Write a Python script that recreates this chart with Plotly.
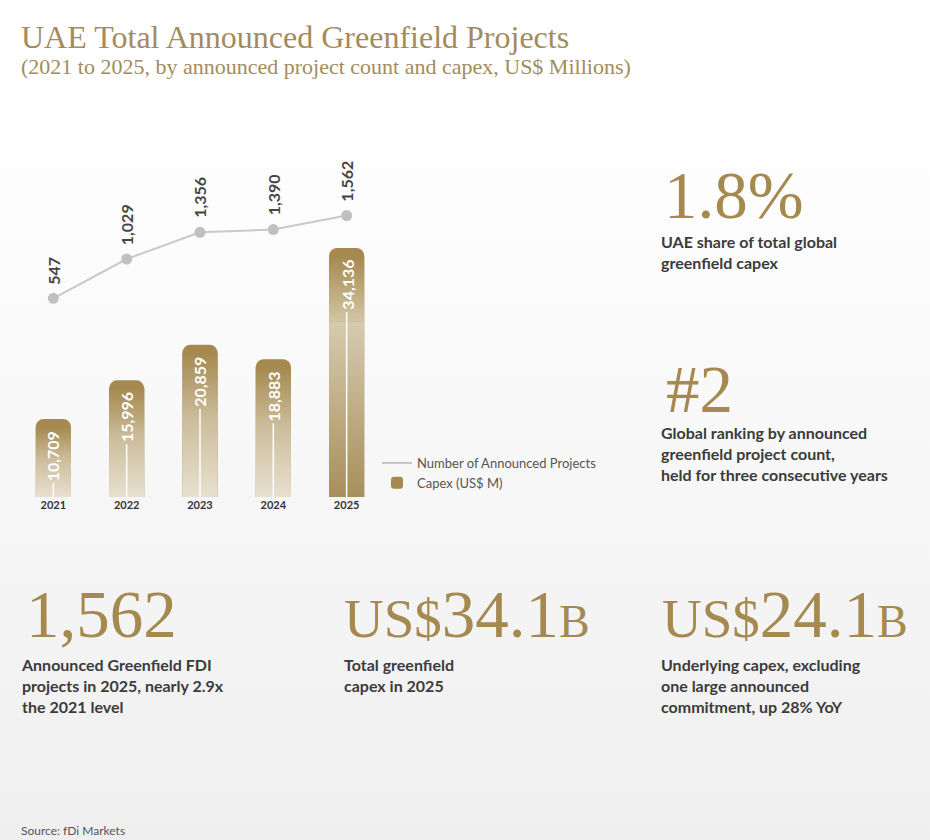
import base64
import plotly.graph_objects as go

W, H = 930, 840

# chart data
years = [2021, 2022, 2023, 2024, 2025]
capex = [10709, 15996, 20859, 18883, 34136]
projects = [547, 1029, 1356, 1390, 1562]
underlying_2025 = 24100  # 2025 capex without the one large commitment

# headline stats
stat_share = "1.8%"
stat_rank = "#2"
stat_count = "1,562"
stat_total = ("34.1", "B")
stat_underlying = ("24.1", "B")

GOLD = "#a5894f"
TITLE_GOLD = "#a38b5c"
TEXT = "#3b3b3b"
SANS = "Lato, 'Open Sans', sans-serif"
SERIF = "'Liberation Serif', 'DejaVu Serif', serif"


def px(x):
    return x / W


def py(y):
    return 1 - y / H


# plot box (pixels in the reference) and scales
X0, X1 = 16.7, 383.3
Y_TOP, Y_BOT = 150, 497
CAPEX_PER_PX = 137.1
PROJ_PER_PX = 12.25
PROJ_ZERO_PX = 343
capex_range = [0, (Y_BOT - Y_TOP) * CAPEX_PER_PX]
proj_range = [-(Y_BOT - PROJ_ZERO_PX) * PROJ_PER_PX, (PROJ_ZERO_PX - Y_TOP) * PROJ_PER_PX]
BAR_W = 0.48
RADIUS = 8

fig = go.Figure()

# bars (solid gold, rounded tops)
fig.add_trace(go.Bar(
    x=years, y=capex, width=BAR_W, name="Capex (US$ M)",
    marker=dict(color=GOLD, cornerradius=RADIUS, line_width=0),
    legendrank=2, hoverinfo="skip",
))

# gradient overlays on the straight part of each bar
r_units = RADIUS * CAPEX_PER_PX
for yr, v in zip(years, capex):
    lo = underlying_2025 if yr == 2025 else 0
    top = v - r_units
    if yr == 2025:
        scale = [[0, "#d2c5a5"], [1, GOLD]]
    else:
        scale = [[0, "#e8e0cf"], [0.55, "#cbbc9b"], [1, GOLD]]
    fig.add_trace(go.Scatter(
        x=[yr - BAR_W / 2, yr - BAR_W / 2, yr + BAR_W / 2, yr + BAR_W / 2, yr - BAR_W / 2],
        y=[lo, top, top, lo, lo], mode="none", fill="toself",
        fillgradient=dict(type="vertical", start=lo, stop=top, colorscale=scale),
        showlegend=False, hoverinfo="skip",
    ))
    if yr == 2025:
        fig.add_trace(go.Scatter(
            x=[yr - BAR_W / 2, yr - BAR_W / 2, yr + BAR_W / 2, yr + BAR_W / 2, yr - BAR_W / 2],
            y=[0, lo, lo, 0, 0], mode="none", fill="toself",
            fillgradient=dict(type="vertical", start=0, stop=lo,
                              colorscale=[[0, "#a88f5c"], [1, "#d6cbb0"]]),
            showlegend=False, hoverinfo="skip",
        ))

# thin white lines under the bar labels
gap_units = 64 * CAPEX_PER_PX
for yr, v in zip(years, capex):
    fig.add_trace(go.Scatter(
        x=[yr, yr], y=[0, v - gap_units], mode="lines",
        line=dict(color="white", width=1.5), showlegend=False, hoverinfo="skip",
    ))

# project count line
fig.add_trace(go.Scatter(
    x=years, y=projects, yaxis="y2", mode="lines+markers",
    line=dict(color="#c9c9c9", width=2), marker=dict(color="#c0c0c0", size=11),
    showlegend=False, hoverinfo="skip",
))
fig.add_trace(go.Scatter(
    x=[None], y=[None], mode="lines", name="Number of Announced Projects",
    line=dict(color="#c4c4c4", width=2), legendrank=1,
))

ann = []
for yr, v in zip(years, capex):
    ann.append(dict(x=yr, y=v, xref="x", yref="y", text=f"{v:,}", showarrow=False,
                    textangle=-90, yanchor="top", yshift=-10,
                    font=dict(family=SANS, size=16, color="white", weight=700)))
for yr, p in zip(years, projects):
    ann.append(dict(x=yr, y=p, xref="x", yref="y2", text=f"{p:,}", showarrow=False,
                    textangle=-90, yanchor="bottom", yshift=12,
                    font=dict(family=SANS, size=16, color="#454545", weight=700)))

# titles
ann.append(dict(x=px(19), y=py(17), xref="paper", yref="paper", xanchor="left", yanchor="top",
                text="UAE Total Announced Greenfield Projects", showarrow=False,
                font=dict(family=SERIF, size=32, color=TITLE_GOLD)))
ann.append(dict(x=px(19), y=py(52), xref="paper", yref="paper", xanchor="left", yanchor="top",
                text="(2021 to 2025, by announced project count and capex, US$ Millions)", showarrow=False,
                font=dict(family=SERIF, size=22, color=TITLE_GOLD)))


def big(x, y, text):
    ann.append(dict(x=px(x), y=py(y), xref="paper", yref="paper", xanchor="left", yanchor="bottom",
                    text=text, showarrow=False, font=dict(family=SERIF, size=67, color=GOLD)))


def body(x, y, text, size=16):
    ann.append(dict(x=px(x), y=py(y), xref="paper", yref="paper", xanchor="left", yanchor="top",
                    text=text, showarrow=False, align="left",
                    font=dict(family=SANS, size=size, color=TEXT, weight=700)))


def dollars(parts):
    return ("<span style='font-size:55px'>US$</span>" + parts[0]
            + "<span style='font-size:46px'>" + parts[1] + "</span>")


big(662, 234, stat_share)
body(659, 230, "UAE share of total global<br>greenfield capex")
big(664, 428, stat_rank)
body(659, 421, "Global ranking by announced<br>greenfield project count,<br>held for three consecutive years")
big(24, 653, stat_count)
body(19, 653, "Announced Greenfield FDI<br>projects in 2025, nearly 2.9x<br>the 2021 level")
big(342, 653, dollars(stat_total))
body(342, 653, "Total greenfield<br>capex in 2025")
big(660, 653, dollars(stat_underlying))
body(659, 653, "Underlying capex, excluding<br>one large announced<br>commitment, up 28% YoY")
ann.append(dict(x=px(19), y=py(830), xref="paper", yref="paper", xanchor="left", yanchor="middle",
                text="Source: fDi Markets", showarrow=False,
                font=dict(family=SANS, size=12, color="#555555")))

bg_svg = (
    '<svg xmlns="http://www.w3.org/2000/svg" width="930" height="840" preserveAspectRatio="none">'
    '<defs><linearGradient id="g" x1="0" y1="0" x2="0" y2="1">'
    '<stop offset="0" stop-color="#ffffff"/><stop offset="0.12" stop-color="#ffffff"/>'
    '<stop offset="1" stop-color="#efefef"/></linearGradient></defs>'
    '<rect width="930" height="840" fill="url(#g)"/></svg>'
)
bg_src = "data:image/svg+xml;base64," + base64.b64encode(bg_svg.encode()).decode()

fig.update_layout(
    width=W, height=H, margin=dict(l=0, r=0, t=0, b=0),
    paper_bgcolor="rgba(0,0,0,0)", plot_bgcolor="rgba(0,0,0,0)",
    barmode="overlay", annotations=ann,
    images=[dict(source=bg_src, xref="paper", yref="paper", x=0, y=1, sizex=1, sizey=1,
                 xanchor="left", yanchor="top", sizing="stretch", layer="below")],
    xaxis=dict(domain=[px(X0), px(X1)], range=[2020.5, 2025.5], tickvals=years,
               ticktext=[str(y) for y in years], showgrid=False, zeroline=False,
               showline=False, ticks="", fixedrange=True,
               tickfont=dict(family=SANS, size=11, color="#333333", weight=700)),
    yaxis=dict(domain=[py(Y_BOT), py(Y_TOP)], range=capex_range, visible=False, fixedrange=True),
    yaxis2=dict(overlaying="y", range=proj_range, visible=False, fixedrange=True),
    legend=dict(x=px(377), y=py(448), xanchor="left", yanchor="top", bgcolor="rgba(0,0,0,0)",
                tracegroupgap=14, font=dict(family=SANS, size=13, color="#555555")),
    showlegend=True,
)

# drop the browser's default body margin so the figure fills the window
fig.write_html("out.html", config={"displayModeBar": False},
               post_script="document.body.style.margin='0';document.body.style.overflow='hidden';")
